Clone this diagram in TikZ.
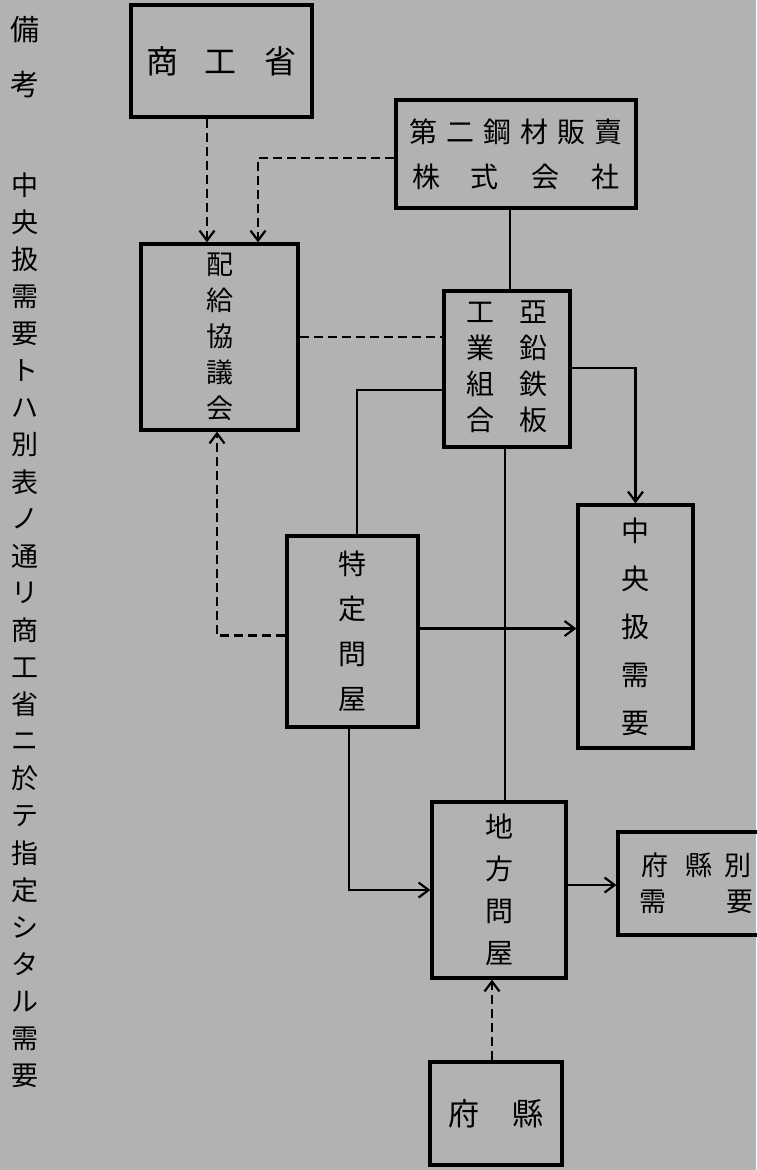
\documentclass[tikz,border=0pt]{standalone}
\usepackage{fontspec}
\setmainfont{Noto Sans CJK JP}
\usetikzlibrary{arrows.meta,calc}
\newcommand\kgap[1]{\hspace{#1pt}}
\begin{document}
\begin{tikzpicture}[x=1pt,y=-1pt,
  box/.style={draw,line width=3.2pt,inner sep=0pt,align=center,font=\fontsize{27}{40}\selectfont},
  note/.style={inner sep=0pt,font=\fontsize{27}{30}\selectfont},
  conn/.style={line width=2.2pt},
  dsh/.style={conn,dash pattern=on 9pt off 5pt},
  arr/.style={-{Straight Barb[length=10pt,width=15pt]}}]
\fill[black!30] (0,0) rectangle (756,1170);
\useasboundingbox (0,0) rectangle (756,1170);

% left remark
\node[note,font=\fontsize{29}{30}\selectfont] (bi) at (25,30) {備};
\node[note,font=\fontsize{29}{30}\selectfont] (ko) at (25,85) {考};
\foreach \c [count=\i from 0] in {中,央,扱,需,要,ト,ハ,別,表,ノ,通,リ,商,工,省,ニ,於,テ,指,定,シ,タ,ル,需,要}
  \node[note] (n\i) at (25,{185+37.1*\i}) {\c};

% boxes
\node[box,minimum width=181,minimum height=112,font=\fontsize{32}{40}\selectfont] (shoko) at (221.5,61)
  {商\kgap{27}工\kgap{28}省};
\node[box,minimum width=240,minimum height=108,font=\fontsize{28}{45}\selectfont] (daini) at (516,154)
  {第\kgap{9}二\kgap{9}鋼\kgap{9}材\kgap{9}販\kgap{9}賣\\株\kgap{30}式\kgap{33}会\kgap{32}社};
\node[box,minimum width=157,minimum height=186,font=\fontsize{27}{36}\selectfont] (haikyu) at (219.5,337)
  {配\\給\\協\\議\\会};
\node[box,minimum width=126,minimum height=156,font=\fontsize{28}{36}\selectfont] (aen) at (507,369)
  {\begin{tabular}{@{}c@{\kgap{26}}c@{}}工&亞\\業&鉛\\組&鉄\\合&板\end{tabular}};
\node[box,minimum width=131,minimum height=191,font=\fontsize{28}{45}\selectfont] (tokutei) at (352.5,631.5)
  {特\\定\\問\\屋};
\node[box,minimum width=115,minimum height=243,font=\fontsize{28}{48}\selectfont] (chuo) at (635.5,626.5)
  {中\\央\\扱\\需\\要};
\node[box,minimum width=134,minimum height=176,font=\fontsize{28}{42}\selectfont] (chiho) at (499,890)
  {地\\方\\問\\屋};
\node[box,minimum width=156,minimum height=103,font=\fontsize{27}{36}\selectfont] (fkb) at (696,883.5)
  {府\kgap{18}縣\kgap{11}別\\需\kgap{60}要};
\node[box,minimum width=132,minimum height=103,font=\fontsize{31}{36}\selectfont] (fuken) at (496,1113.5)
  {府\kgap{34}縣};

% connectors
\draw[dsh,arr] ($(shoko.south)+(-14.5,0)$) -- ($(haikyu.north)+(-12.5,0)$);
\draw[dsh,arr] ($(daini.west)+(0,4)$) -| ($(haikyu.north)+(38.5,0)$);
\coordinate (a3) at ($(aen.north)+(3,0)$);
\draw[conn] (a3) -- (a3 |- daini.south);
\draw[dsh] (haikyu.east) -- (haikyu.east -| aen.west);
\draw[conn] ($(aen.west)+(0,21)$) -| ($(tokutei.north)+(4.5,0)$);
\draw[conn,arr] ($(aen.east)+(0,-1)$) -| (chuo.north);
\coordinate (a7) at ($(aen.south)+(-2,0)$);
\draw[conn] (a7) -- (a7 |- chiho.north);
\coordinate (a8) at ($(tokutei.east)+(0,-3)$);
\draw[conn,arr] (a8) -- (a8 -| chuo.west);
\draw[dsh,arr] ($(tokutei.west)+(0,4)$) -| ($(haikyu.south)+(-2.5,0)$);
\draw[conn,arr] ($(tokutei.south)+(-3.5,0)$) |- (chiho.west);
\coordinate (a11) at ($(chiho.east)+(0,-5)$);
\draw[conn,arr] (a11) -- (a11 -| fkb.west);
\draw[dsh,arr] ($(fuken.north)+(-4,0)$) -- ($(chiho.south)+(-7,0)$);
\end{tikzpicture}
\end{document}
